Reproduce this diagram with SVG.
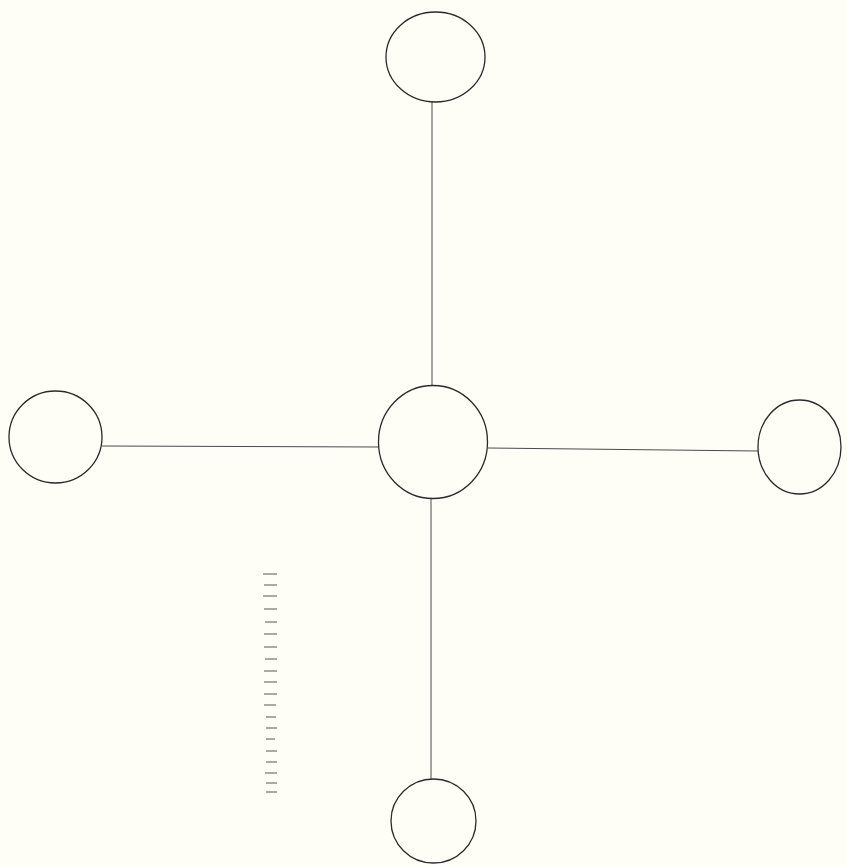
<svg xmlns="http://www.w3.org/2000/svg" width="847" height="865" viewBox="0 0 847 865">
<style>
.node{fill:none;stroke:#2a2a2a;stroke-width:1.3}
.edge{stroke:#4a4a4a;stroke-width:1;fill:none}
.tick{stroke:#555;stroke-width:1}
</style>
<rect width="847" height="865" fill="#fefef7"/>
<g id="connectors">
<line class="edge" x1="432" y1="102" x2="432" y2="385"/>
<line class="edge" x1="102" y1="446" x2="379" y2="447"/>
<line class="edge" x1="488" y1="448" x2="758" y2="451"/>
<line class="edge" x1="431" y1="498" x2="431" y2="779"/>
</g>
<g id="node-center"><ellipse class="node" cx="433" cy="442" rx="54.5" ry="56.5"/></g>
<g id="node-top"><ellipse class="node" cx="435.5" cy="57" rx="49.5" ry="45"/></g>
<g id="node-left"><ellipse class="node" cx="55.5" cy="437" rx="46.5" ry="46"/></g>
<g id="node-right"><ellipse class="node" cx="799.5" cy="447" rx="41.5" ry="47"/></g>
<g id="node-bottom"><ellipse class="node" cx="433.5" cy="821" rx="42.5" ry="42"/></g>
<g id="scale">
<line class="tick" x1="263" y1="574" x2="277" y2="574"/>
<line class="tick" x1="264" y1="585" x2="277" y2="585"/>
<line class="tick" x1="263" y1="596" x2="277" y2="596"/>
<line class="tick" x1="264" y1="609" x2="277" y2="609"/>
<line class="tick" x1="265" y1="622" x2="277" y2="622"/>
<line class="tick" x1="264" y1="634" x2="277" y2="634"/>
<line class="tick" x1="264" y1="647" x2="277" y2="647"/>
<line class="tick" x1="265" y1="659" x2="277" y2="659"/>
<line class="tick" x1="264" y1="671" x2="277" y2="671"/>
<line class="tick" x1="264" y1="682" x2="277" y2="682"/>
<line class="tick" x1="264" y1="694" x2="277" y2="694"/>
<line class="tick" x1="264" y1="705" x2="276" y2="705"/>
<line class="tick" x1="266" y1="717" x2="276" y2="717"/>
<line class="tick" x1="266" y1="728" x2="277" y2="728"/>
<line class="tick" x1="266" y1="739" x2="275" y2="739"/>
<line class="tick" x1="266" y1="751" x2="277" y2="751"/>
<line class="tick" x1="266" y1="762" x2="277" y2="762"/>
<line class="tick" x1="265" y1="773" x2="277" y2="773"/>
<line class="tick" x1="266" y1="783" x2="277" y2="783"/>
<line class="tick" x1="266" y1="792" x2="277" y2="792"/>
</g>
</svg>
